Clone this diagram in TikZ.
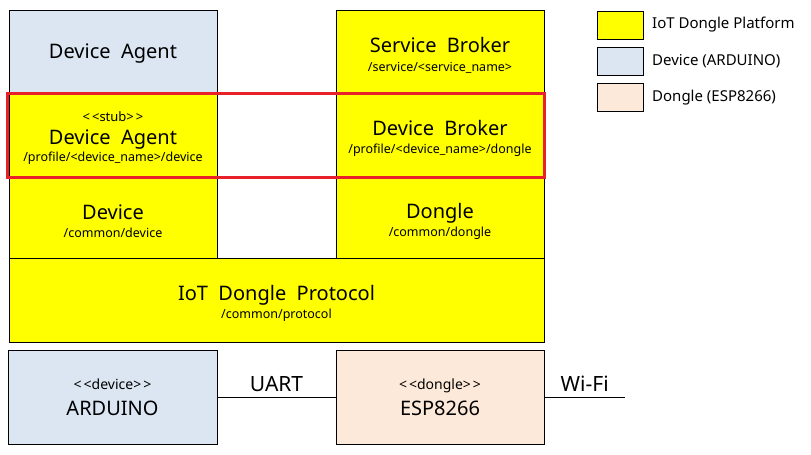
\documentclass[tikz,border=0pt]{standalone}
\usepackage{fontspec}
\setmainfont{Noto Sans}
\usepackage{xcolor}
\definecolor{platform}{HTML}{FFFF00}
\definecolor{arduino}{HTML}{DCE6F2}
\definecolor{esp}{HTML}{FDE9D9}
\definecolor{focus}{HTML}{E8202A}
\newcommand{\ttl}{\fontsize{20}{24}\selectfont}
\newcommand{\sml}{\fontsize{12.5}{14}\selectfont}
\newcommand{\stereo}[1]{<\kern2pt<#1>\kern2pt>}

\begin{document}
\begin{tikzpicture}[x=1pt,y=-1pt,
    layer/.style={draw=black,line width=0.8pt,rectangle,inner sep=0pt,
      minimum width=208pt},
    txt/.style={inner sep=0pt,align=center,font=\fontsize{12}{20}\selectfont},
    key/.style={draw=black,line width=0.8pt,rectangle,inner sep=0pt,
      minimum width=46pt,minimum height=28pt},
    keytext/.style={anchor=west,inner sep=0pt,font=\fontsize{15}{18}\selectfont}]
    \useasboundingbox (0,0) rectangle (811,455);
    %
    \node[layer,fill=arduino,minimum height=83pt] (agent) at (113,51.5) {};
    \node[layer,fill=platform,minimum height=84pt] (stub) at (113,135) {};
    \node[layer,fill=platform,minimum height=81pt] (device) at (113,217.5) {};
    \node[layer,fill=platform,minimum height=83pt] (sbroker) at (440,51.5) {};
    \node[layer,fill=platform,minimum height=84pt] (dbroker) at (440,135) {};
    \node[layer,fill=platform,minimum height=81pt] (dongle) at (440,217.5) {};
    \node[layer,fill=platform,minimum width=535pt,minimum height=84pt] (protocol) at (276.5,300) {};
    %
    \node[txt] (agent-t) at ([yshift=-2pt]agent.center) {\ttl Device\ \ Agent};
    \node[txt] (stub-t) at ([yshift=-3pt]stub.center)
      {\fontsize{13}{14}\selectfont\stereo{stub}\\[3pt]\ttl Device\ \ Agent\\[-3pt]\sml /profile/<device\_name>/device};
    \node[txt] (device-t) at ([yshift=-3.5pt]device.center)
      {\ttl Device\\[-2pt]\sml /common/device};
    \node[txt] (sbroker-t) at ([yshift=-3.5pt]sbroker.center)
      {\ttl Service\ \ Broker\\[-1pt]\sml /service/<service\_name>};
    \node[txt] (dbroker-t) at ([yshift=-3.5pt]dbroker.center)
      {\ttl Device\ \ Broker\\[-2pt]\sml /profile/<device\_name>/dongle};
    \node[txt] (dongle-t) at ([yshift=-3.5pt]dongle.center)
      {\ttl Dongle\\[-2pt]\sml /common/dongle};
    \node[txt] (protocol-t) at ([yshift=-3.5pt]protocol.center)
      {\ttl IoT\ \ Dongle\ \ Protocol\\[-2pt]\sml /common/protocol};
    %
    \node[draw=focus,line width=3pt,rectangle,minimum width=537pt,minimum height=84pt] (focus) at (276,135.5) {};
    %
    \node[layer,fill=arduino,minimum width=209pt,minimum height=94pt] (board) at (112.5,397) {};
    \node[layer,fill=esp,minimum height=94pt] (wifi) at (440,397) {};
    \node[txt] (board-t) at (board.center)
      {\fontsize{14}{16}\selectfont\stereo{device}\\[6pt]\ttl ARDUINO};
    \node[txt] (wifi-t) at (wifi.center)
      {\fontsize{14}{16}\selectfont\stereo{dongle}\\[6pt]\ttl ESP8266};
    \coordinate (air) at (625,397);
    \draw[line width=0.8pt] (board) -- node[above=2pt,font=\fontsize{21}{24}\selectfont] {UART} (wifi);
    \draw[line width=0.8pt] (wifi) -- node[above=2pt,font=\fontsize{21}{24}\selectfont] {Wi-Fi} (air);
    %
    \node[key,fill=platform] (kplatform) at (620,25) {};
    \node[key,fill=arduino] (karduino) at (620,61) {};
    \node[key,fill=esp] (kesp) at (620,97.5) {};
    \node[keytext] (kplatform-t) at (652,25) {IoT Dongle Platform};
    \node[keytext] (karduino-t) at (652,61) {Device (ARDUINO)};
    \node[keytext] (kesp-t) at (652,97.5) {Dongle (ESP8266)};
\end{tikzpicture}
\end{document}
